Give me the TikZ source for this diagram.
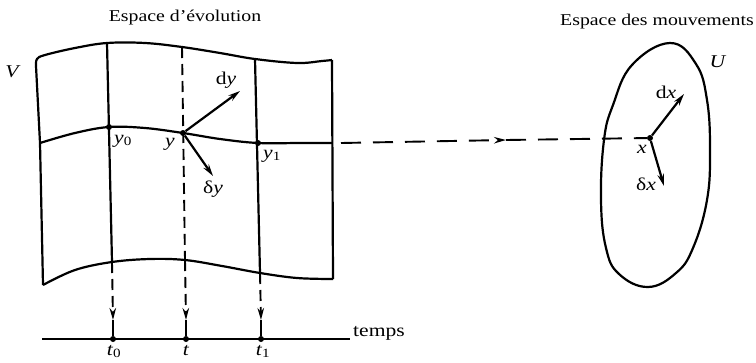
\documentclass[tikz,border=0pt]{standalone}
\usepackage{fontspec}
\setmainfont[FakeStretch=1.2]{Liberation Serif}
\usetikzlibrary{arrows.meta}
\begin{document}
\begin{tikzpicture}[x=1pt,y=-1pt,line join=round,
  edge/.style={line width=2.2pt},
  dashline/.style={line width=1.9pt,dash pattern=on 11pt off 6pt},
  tip/.style={-{Stealth[length=12pt,width=6.5pt]}},
  vec/.style={line width=2.2pt,-{Stealth[length=12pt,width=6.5pt]}},
  dot/.style={circle,fill,inner sep=0pt,minimum size=6pt},
  lab/.style={font=\fontsize{18}{20}\selectfont,inner sep=0pt},
  ttl/.style={font=\fontsize{16.5}{19}\selectfont,inner sep=0pt,anchor=base}]
\useasboundingbox (0,0) rectangle (756,362);

% titles
\node[ttl] (t1title) at (185,21) {Espace d'évolution};
\node[ttl] (t2title) at (657,25) {Espace des mouvements};

% surface V
\draw[edge] plot[smooth,tension=0.6] coordinates {(36,66) (37,59) (45,55) (75,48) (107,43) (145,43) (182,47) (220,53) (255,59) (297,63) (322,61) (332,60)};
\draw[edge] (36,66) -- (40,143) -- (43,285);
\draw[edge] (332,60) -- (333,279);
\draw[edge] plot[smooth,tension=0.6] coordinates {(40,143) (75,133) (109,127) (145,128) (183,133) (220,139) (258,143) (300,143) (332,143)};
\draw[edge] plot[smooth,tension=0.6] coordinates {(43,285) (75,270) (112,262) (150,259) (185,260) (222,266) (260,273) (297,278) (333,279)};

\coordinate (A0) at (107,43);  \coordinate (B0) at (112,262);
\coordinate (A1) at (182,47);  \coordinate (B1) at (185,260);
\coordinate (A2) at (255,59);  \coordinate (B2) at (260,273);
\draw[edge] (A0) -- (B0);
\draw[dashline] (A1) -- (B1);
\draw[edge] (A2) -- (B2);

\node[dot] (Y0) at (109,127) {};
\node[dot] (Y)  at (183,133) {};
\node[dot] (Y1) at (258,143) {};

\node[lab] (lY0) at (123,141) {\textit{y}\textsubscript{0}};
\node[lab] (lY)  at (170,144) {\textit{y}};
\node[lab] (lY1) at (272,156) {\textit{y}\textsubscript{1}};
\node[lab] (lV)  at (13,72) {\textit{V}};

\coordinate (DY) at (240,91);
\coordinate (SY) at (213,176);
\draw[vec] (Y) -- (DY);
\draw[vec] (Y) -- (SY);
\node[lab] (lDY) at (226,80) {d\textit{y}};
\node[lab] (lSY) at (213,189) {δ\textit{y}};

% time axis
\coordinate (AxL) at (42,339);
\coordinate (AxR) at (350,339);
\draw[edge] (AxL) -- (AxR);
\node[lab,anchor=base west] (temps) at (353,336) {temps};
\node[dot] (T0) at (113,339) {};
\node[dot] (T)  at (186,339) {};
\node[dot] (T1) at (261,339) {};
\coordinate (M0) at (113,320);
\coordinate (M)  at (186,320);
\coordinate (M1) at (261,320);
\draw[dashline,tip] (B0) -- (M0);
\draw[line width=1.9pt] (M0) -- (T0);
\draw[dashline,tip] (B1) -- (M);
\draw[line width=1.9pt] (M) -- (T);
\draw[dashline,tip] (B2) -- (M1);
\draw[line width=1.9pt] (M1) -- (T1);
\node[lab,anchor=base] (lT0) at (114,355) {\textit{t}\textsubscript{0}};
\node[lab,anchor=base] (lT)  at (186,355) {\textit{t}};
\node[lab,anchor=base] (lT1) at (263,355) {\textit{t}\textsubscript{1}};

% movement space U
\draw[edge] plot[smooth cycle,tension=0.7] coordinates {(670,43) (696,64) (707,100) (710,150) (707,200) (693,248) (676,273) (648,287) (619,274) (606,248) (601,200) (604,140) (613,105) (632,65)};
\node[lab] (lU) at (718,62) {\textit{U}};
\node[dot] (X) at (650,138) {};
\coordinate (DX) at (684,94);
\coordinate (SX) at (664,186);
\draw[vec] (X) -- (DX);
\draw[vec] (X) -- (SX);
\node[lab] (lX)  at (642,149) {\textit{x}};
\node[lab] (lDX) at (666,92) {d\textit{x}};
\node[lab] (lSX) at (646,184) {δ\textit{x}};

% mapping arrow
\coordinate (H0) at (341,143);
\coordinate (HM) at (506,140);
\draw[dashline,dash pattern=on 20pt off 12pt,tip] (H0) -- (HM);
\draw[dashline,dash pattern=on 20pt off 12pt] (HM) -- (X);
\end{tikzpicture}
\end{document}
